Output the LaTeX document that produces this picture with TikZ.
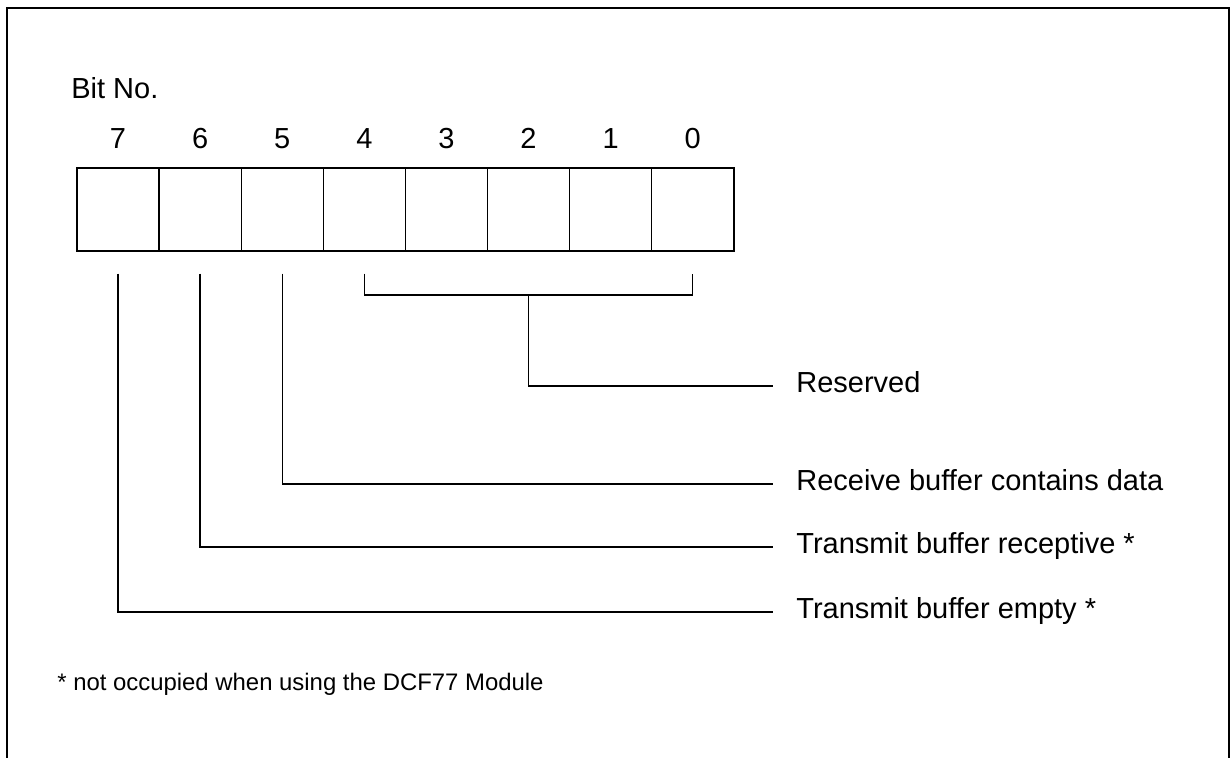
\documentclass[tikz,border=0pt]{standalone}
\usepackage{fontspec}
\setmainfont{Liberation Sans}
\usetikzlibrary{calc}

\begin{document}
\begin{tikzpicture}
		\tikzset{bitcell/.style={draw,line width=0.8pt,minimum width=1.642cm,minimum height=1.66cm,inner sep=0pt},
			bignum/.style={anchor=base,inner sep=0pt,font=\fontsize{16.5pt}{19pt}\selectfont},
			desc/.style={anchor=west,inner sep=0pt,text height=1.5ex,text depth=0pt,font=\fontsize{16.5pt}{19pt}\selectfont},
			tick/.style={line width=0.8pt,shorten <=0.44cm,shorten >=0.46cm}}
		\useasboundingbox (0,0) rectangle (24.62,-15.16);
		\draw[line width=1.4pt] (0.14,-15.4) -- (0.14,-0.16) -- (24.58,-0.16) -- (24.58,-15.4);
		\node (bitno) at (1.42,-1.98) [anchor=base west,inner sep=0pt,font=\fontsize{16.5pt}{19pt}\selectfont] {Bit No.};
		% register cells
		\node (b7) at (2.361,-4.19) [bitcell] {};
		\node (b6) at (4.003,-4.19) [bitcell] {};
		\node (b5) at (5.645,-4.19) [bitcell] {};
		\node (b4) at (7.287,-4.19) [bitcell] {};
		\node (b3) at (8.929,-4.19) [bitcell] {};
		\node (b2) at (10.571,-4.19) [bitcell] {};
		\node (b1) at (12.213,-4.19) [bitcell] {};
		\node (b0) at (13.855,-4.19) [bitcell] {};
		% bit numbers
		\node (n7) at (2.361,-2.98) [bignum] {7};
		\node (n6) at (4.003,-2.98) [bignum] {6};
		\node (n5) at (5.645,-2.98) [bignum] {5};
		\node (n4) at (7.287,-2.98) [bignum] {4};
		\node (n3) at (8.929,-2.98) [bignum] {3};
		\node (n2) at (10.571,-2.98) [bignum] {2};
		\node (n1) at (12.213,-2.98) [bignum] {1};
		\node (n0) at (13.855,-2.98) [bignum] {0};
		% meanings
		\node (l2) at (15.92,-7.72) [desc] {Reserved};
		\node (l5) at (15.92,-9.68) [desc] {Receive buffer contains data};
		\node (l6) at (15.92,-10.94) [desc] {Transmit buffer receptive *};
		\node (l7) at (15.92,-12.24) [desc] {Transmit buffer empty *};
		\coordinate (br) at (10.571,-5.9);
		
		\draw[line width=0.8pt,shorten <=0.44cm,shorten >=0.44cm] (b4.south) |- (br) -| (b0.south);
		\draw[tick,shorten <=0pt] (br) |- (l2.west);
		\draw[tick] (b5.south) |- (l5.west);
		\draw[tick] (b6.south) |- (l6.west);
		\draw[tick] (b7.south) |- (l7.west);
		
		\node (note) at (1.14,-13.8) [anchor=base west,inner sep=0pt,font=\fontsize{13.6pt}{16pt}\selectfont] {* not occupied when using the DCF77 Module};
	\end{tikzpicture}
\end{document}
